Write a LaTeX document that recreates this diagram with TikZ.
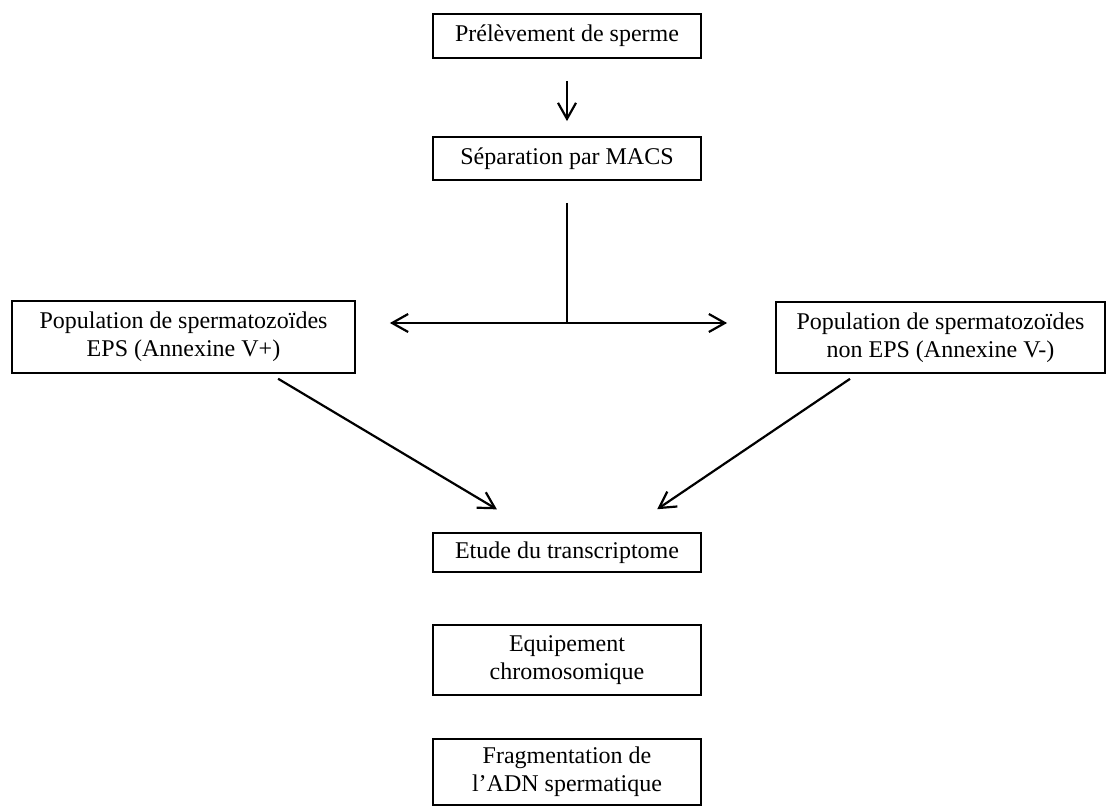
\documentclass[tikz,border=0pt]{standalone}
\usepackage{fontspec}
\setmainfont{Liberation Serif}
\usetikzlibrary{arrows.meta,calc}
\begin{document}
\begin{tikzpicture}[x=0.5pt,y=-0.5pt,
  box/.style={draw,line width=0.9pt,inner sep=0pt,align=center,
    font=\fontsize{12}{14}\selectfont},
  cbox/.style={box,minimum width=134pt},
  conn/.style={line width=1.1pt,-{Straight Barb[length=8pt,width=9pt,line width=1.1pt]}},
  plain/.style={line width=1.1pt}]
\useasboundingbox (0,0) rectangle (1109,808);
\node[cbox,minimum height=22pt] (p1) at (567,36) {Prélèvement de sperme};
\node[cbox,minimum height=21.5pt] (p2) at (567,158.5) {Séparation par MACS};
\node[box,minimum width=171.5pt,minimum height=36pt] (left) at (183.5,337) {Population de spermatozoïdes\\EPS (Annexine V+)};
\node[box,minimum width=164.5pt,minimum height=35.5pt] (right) at (940.5,337.5) {Population de spermatozoïdes\\non EPS (Annexine V-)};
\node[cbox,minimum height=19.5pt] (etude) at (567,552.5) {Etude du transcriptome};
\node[cbox,minimum height=35pt] (equip) at (567,660) {Equipement\\chromosomique};
\node[cbox,minimum height=33pt] (frag) at (567,772) {Fragmentation de\\l’ADN spermatique};
\coordinate (split) at (567,323);
\draw[conn,shorten <=11pt,shorten >=7.5pt] (p1.south) -- (p2.north);
\draw[plain,shorten <=11pt] (p2.south) -- (split);
\draw[conn,shorten >=17pt] (split) -- (split -| left.east);
\draw[conn,shorten >=24pt] (split) -- (split -| right.west);
\draw[conn,shorten <=4.7pt,shorten >=22.2pt] ($(left.south)+(86.5,0)$) -- ($(etude.north)+(-32,0)$);
\draw[conn,shorten <=4.4pt,shorten >=20.4pt] ($(right.south)+(-83.2,0)$) -- ($(etude.north)+(56.4,0)$);
\end{tikzpicture}
\end{document}
